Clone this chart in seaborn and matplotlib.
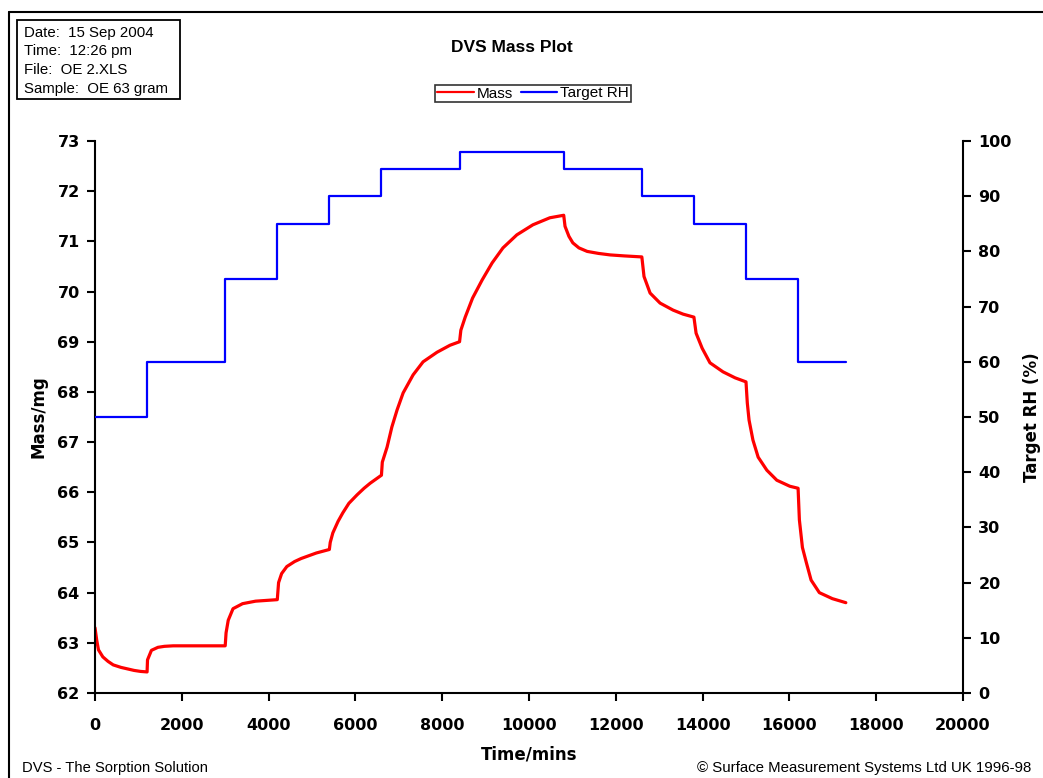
import matplotlib
matplotlib.use("Agg")
import matplotlib.pyplot as plt
import seaborn as sns
import pandas as pd
from matplotlib.lines import Line2D
from matplotlib.patches import Rectangle

# ---- data ----
mass_time = [0, 40, 80, 180, 300, 420, 600, 750, 900, 1050, 1200,
             1210, 1300, 1450, 1600, 1800, 2400, 3000,
             3020, 3070, 3180, 3400, 3700, 4200,
             4230, 4300, 4420, 4600, 4750, 5100, 5400,
             5420, 5480, 5600, 5710, 5850, 6040, 6200, 6340, 6600,
             6620, 6730, 6840, 6960, 7100, 7330, 7560, 7880, 8180, 8400,
             8430, 8530, 8700, 8920, 9150, 9400, 9720, 10090, 10480, 10800,
             10830, 10920, 11010, 11150, 11340, 11600, 11870, 12200, 12600,
             12650, 12790, 13020, 13320, 13550, 13800,
             13850, 13990, 14170, 14470, 14750, 15000,
             15030, 15070, 15160, 15280, 15480, 15710, 16010, 16200,
             16230, 16300, 16390, 16500, 16690, 16990, 17300]
mass_mg = [63.30, 63.05, 62.86, 62.72, 62.63, 62.56, 62.51, 62.48, 62.45, 62.43, 62.42,
           62.66, 62.85, 62.91, 62.93, 62.94, 62.94, 62.94,
           63.20, 63.45, 63.68, 63.78, 63.83, 63.86,
           64.20, 64.38, 64.52, 64.62, 64.68, 64.79, 64.86,
           65.00, 65.19, 65.42, 65.59, 65.78, 65.95, 66.08, 66.18, 66.34,
           66.60, 66.90, 67.30, 67.64, 67.98, 68.34, 68.60, 68.79, 68.93, 69.00,
           69.23, 69.49, 69.87, 70.23, 70.57, 70.87, 71.13, 71.33, 71.47, 71.52,
           71.30, 71.10, 70.97, 70.87, 70.80, 70.76, 70.73, 70.71, 70.69,
           70.30, 69.97, 69.77, 69.63, 69.55, 69.49,
           69.17, 68.87, 68.58, 68.40, 68.28, 68.20,
           67.78, 67.44, 67.04, 66.70, 66.44, 66.24, 66.12, 66.08,
           65.45, 64.90, 64.60, 64.25, 64.00, 63.88, 63.80]

rh_time = [0, 1200, 3000, 4200, 5400, 6600, 8400, 10800, 12600, 13800, 15000, 16200, 17300]
rh_pct = [50, 60, 75, 85, 90, 95, 98, 95, 90, 85, 75, 60, 60]

x_ticks = list(range(0, 20001, 2000))
mass_ticks = list(range(62, 74))
rh_ticks = list(range(0, 101, 10))

info_lines = ["Date:  15 Sep 2004", "Time:  12:26 pm", "File:  OE 2.XLS", "Sample:  OE 63 gram"]

# ---- style ----
sns.set_style("ticks")
plt.rcParams['font.family'] = ['Liberation Sans', 'DejaVu Sans']
for k in ['text.color', 'axes.labelcolor', 'xtick.color', 'ytick.color', 'axes.edgecolor']:
    plt.rcParams[k] = 'black'
plt.rcParams['axes.linewidth'] = 1.5
plt.rcParams['xtick.major.width'] = 1.5
plt.rcParams['ytick.major.width'] = 1.5
plt.rcParams['xtick.major.size'] = 6
plt.rcParams['ytick.major.size'] = 6

BOLD_FAM = ['DejaVu Sans']

W, H = 1043, 778
fig = plt.figure(figsize=(W / 100, H / 100), dpi=100)
ax = fig.add_axes([95 / W, 1 - 693 / H, (963 - 95) / W, (693 - 141) / H])
ax2 = ax.twinx()

df_mass = pd.DataFrame({"t": mass_time, "m": mass_mg})
df_rh = pd.DataFrame({"t": rh_time, "rh": rh_pct})

sns.lineplot(data=df_mass, x="t", y="m", ax=ax, color="#ff0000", linewidth=2.3,
             sort=False, estimator=None, legend=False)
sns.lineplot(data=df_rh, x="t", y="rh", ax=ax2, color="#0000ff", linewidth=1.6,
             sort=False, estimator=None, drawstyle="steps-post", legend=False)

ax.set_xlim(0, 20000)
ax.set_ylim(62, 73)
ax2.set_ylim(0, 100)
ax.set_xticks(x_ticks)
ax.set_yticks(mass_ticks)
ax2.set_yticks(rh_ticks)

for a in (ax, ax2):
    a.spines['top'].set_visible(False)
    for s in a.spines.values():
        s.set_color("black")
        s.set_linewidth(1.5)
ax.spines['right'].set_visible(False)
ax2.spines['left'].set_visible(False)
ax2.spines['bottom'].set_visible(False)

ax.tick_params(axis='x', colors='black', pad=12, direction='out')
ax.tick_params(axis='y', colors='black', pad=5, direction='out')
ax2.tick_params(axis='y', colors='black', pad=5, direction='out')
for lab in ax.get_xticklabels() + ax.get_yticklabels() + ax2.get_yticklabels():
    lab.set_fontweight('bold')
    lab.set_fontfamily(BOLD_FAM)
    lab.set_fontsize(11.5)

ax.set_xlabel("Time/mins", fontsize=12, fontweight='bold', family=BOLD_FAM)
ax.set_ylabel("Mass/mg", fontsize=12, fontweight='bold', family=BOLD_FAM)
ax2.set_ylabel("Target RH (%)", fontsize=12, fontweight='bold', family=BOLD_FAM)
ax.xaxis.set_label_coords(0.5, -0.095)
ax.yaxis.set_label_coords(-0.055, 0.5)
ax2.yaxis.set_label_coords(1.069, 0.5)

# title
fig.text(512 / W, 1 - 48 / H, "DVS Mass Plot", ha='center', va='center', fontsize=12.5, fontweight='bold')

# legend
handles = [Line2D([], [], color="#ff0000", linewidth=1.6), Line2D([], [], color="#0000ff", linewidth=1.6)]
leg = fig.legend(handles, ["Mass", "Target RH"], loc='center', bbox_to_anchor=(533 / W, 1 - 93.5 / H),
                 ncol=2, fontsize=11, frameon=True, fancybox=False, handlelength=2.4, handletextpad=0.2,
                 columnspacing=0.5, borderpad=0.1, borderaxespad=0)
leg.get_frame().set_edgecolor("black")
leg.get_frame().set_linewidth(1.2)

# info box
fig.patches.append(Rectangle((17 / W, 1 - 99 / H), (180 - 17) / W, (99 - 20) / H,
                             transform=fig.transFigure, fill=False, edgecolor='black', linewidth=1.3))
for i, line in enumerate(info_lines):
    fig.text(24 / W, 1 - (32.5 + i * 18.7) / H, line, ha='left', va='center', fontsize=10.8)

# outer border (left and top)
fig.add_artist(Line2D([9 / W, 9 / W], [0, 1 - 12 / H], transform=fig.transFigure, color='black', linewidth=1.5))
fig.add_artist(Line2D([9 / W, 1], [1 - 12 / H, 1 - 12 / H], transform=fig.transFigure, color='black', linewidth=1.5))

# footer
fig.text(22 / W, 1 - 768 / H, "DVS - The Sorption Solution", ha='left', va='center', fontsize=10.6)
fig.text(1031 / W, 1 - 768 / H, "\u00a9 Surface Measurement Systems Ltd UK 1996-98", ha='right', va='center', fontsize=10.8)

fig.savefig("out.png", dpi=100)
